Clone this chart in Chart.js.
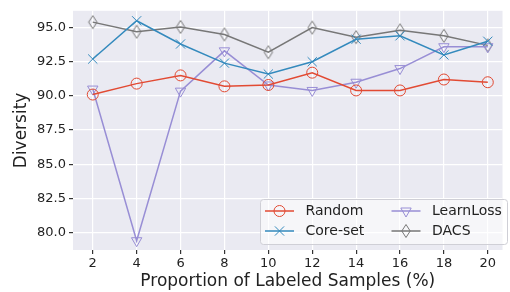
<!DOCTYPE html>
<html>
<head>
<meta charset="utf-8">
<script src="https://cdn.jsdelivr.net/npm/chart.js@4.4.1/dist/chart.umd.min.js"></script>
<style>
  html, body { margin: 0; padding: 0; background: #fff; }
  #wrap { width: 510px; height: 292px; position: relative; }
</style>
</head>
<body>
<div id="wrap"><canvas id="chart" width="510" height="292"></canvas></div>
<script>
const proportions = [2, 4, 6, 8, 10, 12, 14, 16, 18, 20]
const yTicks = [80.0, 82.5, 85.0, 87.5, 90.0, 92.5, 95.0]

const random = [90.1, 90.9, 91.5, 90.7, 90.8, 91.7, 90.4, 90.4, 91.2, 91.0]
const coreSet = [92.7, 95.5, 93.8, 92.4, 91.6, 92.5, 94.15, 94.4, 93.0, 94.0]
const learnLoss = [90.5, 79.4, 90.35, 93.3, 90.8, 90.4, 91.0, 92.0, 93.6, 93.6]
const dacs = [95.4, 94.7, 95.05, 94.5, 93.2, 95.0, 94.3, 94.8, 94.4, 93.7]

const FONT = 'DejaVu Sans'

// thin diamond marker (matplotlib 'd')
const thinDiamond = (() => {
  const c = document.createElement('canvas')
  c.width = 12
  c.height = 16
  const g = c.getContext('2d')
  g.strokeStyle = '#777777'
  g.lineWidth = 1
  g.beginPath()
  g.moveTo(6, 1.5)
  g.lineTo(10.2, 8)
  g.lineTo(6, 14.5)
  g.lineTo(1.8, 8)
  g.closePath()
  g.stroke()
  return c
})()

const toPoints = values => values.map((v, i) => ({ x: proportions[i], y: v }))

const series = [
  { label: 'Random', data: random, color: '#E24A33', style: 'circle', radius: 5.5, rotation: 0 },
  { label: 'Core-set', data: coreSet, color: '#348ABD', style: 'crossRot', radius: 6.5, rotation: 0 },
  { label: 'LearnLoss', data: learnLoss, color: '#988ED5', style: 'triangle', radius: 6, rotation: 180 },
  { label: 'DACS', data: dacs, color: '#777777', style: thinDiamond, radius: 6, rotation: 0 },
]

const bgPlugin = {
  id: 'bg',
  beforeDraw(chart) {
    const { ctx, chartArea: a } = chart
    ctx.save()
    ctx.fillStyle = '#EAEAF2'
    ctx.fillRect(a.left, a.top, a.right - a.left, a.bottom - a.top)
    ctx.restore()
  },
}

const legendPlugin = {
  id: 'boxLegend',
  afterDraw(chart) {
    const { ctx } = chart
    const box = { x: 260.5, y: 199.5, w: 247, h: 45 }
    ctx.save()
    ctx.fillStyle = 'rgba(255,255,255,0.55)'
    ctx.strokeStyle = '#cfcfd6'
    ctx.lineWidth = 1
    ctx.beginPath()
    ctx.roundRect(box.x, box.y, box.w, box.h, 3)
    ctx.fill()
    ctx.stroke()
    const cols = [265, 391.5]
    const rows = [211, 231]
    ctx.font = `14px "${FONT}"`
    ctx.textBaseline = 'middle'
    chart.data.datasets.forEach((ds, i) => {
      const x = cols[Math.floor(i / 2)]
      const y = rows[i % 2]
      ctx.strokeStyle = ds.borderColor
      ctx.lineWidth = 1.5
      ctx.beginPath()
      ctx.moveTo(x, y)
      ctx.lineTo(x + 29, y)
      ctx.stroke()
      ctx.strokeStyle = ds.pointBorderColor
      ctx.fillStyle = 'rgba(0,0,0,0)'
      ctx.lineWidth = 1
      Chart.helpers.drawPoint(ctx, {
        pointStyle: ds.pointStyle,
        radius: ds.pointRadius,
        rotation: ds.pointRotation,
        borderWidth: 1,
      }, x + 14.5, y)
      ctx.fillStyle = '#222'
      ctx.fillText(ds.label, x + 40.5, y + 0.5)
    })
    ctx.restore()
  },
}

new Chart(document.getElementById('chart'), {
  type: 'line',
  data: {
    datasets: series.map(s => ({
      label: s.label,
      data: toPoints(s.data),
      borderColor: s.color,
      borderWidth: 1.5,
      pointStyle: s.style,
      pointRadius: s.radius,
      pointRotation: s.rotation,
      pointBorderColor: s.color,
      pointBorderWidth: 1,
      pointBackgroundColor: 'rgba(0,0,0,0)',
      tension: 0,
    })),
  },
  options: {
    responsive: false,
    animation: false,
    layout: { padding: { top: 8, right: 0, left: 0, bottom: 0 } },
    plugins: { legend: { display: false }, tooltip: { enabled: false } },
    scales: {
      x: {
        type: 'linear',
        min: 1.1,
        max: 20.67,
        afterBuildTicks: scale => { scale.ticks = proportions.map(v => ({ value: v })) },
        afterFit: scale => { scale.height = 42 },
        grid: { color: '#ffffff', lineWidth: 1.2, tickColor: '#333', tickLength: 4 },
        border: { display: false },
        ticks: { color: '#222', font: { family: FONT, size: 13 }, padding: 2, maxRotation: 0 },
        title: { display: true, text: 'Proportion of Labeled Samples (%)', color: '#222', font: { family: FONT, size: 17 }, padding: { top: 0, bottom: 0 } },
      },
      y: {
        min: 78.72,
        max: 96.23,
        afterBuildTicks: scale => { scale.ticks = yTicks.map(v => ({ value: v })) },
        afterFit: scale => { scale.width = 73 },
        grid: { color: '#ffffff', lineWidth: 1.2, tickColor: '#333', tickLength: 4 },
        border: { display: false },
        ticks: { color: '#222', font: { family: FONT, size: 13 }, padding: 3, callback: v => v.toFixed(1) },
        title: { display: true, text: 'Diversity', color: '#222', font: { family: FONT, size: 17 }, padding: { top: 11, bottom: 0 } },
      },
    },
  },
  plugins: [bgPlugin, legendPlugin],
})
</script>
</body>
</html>
